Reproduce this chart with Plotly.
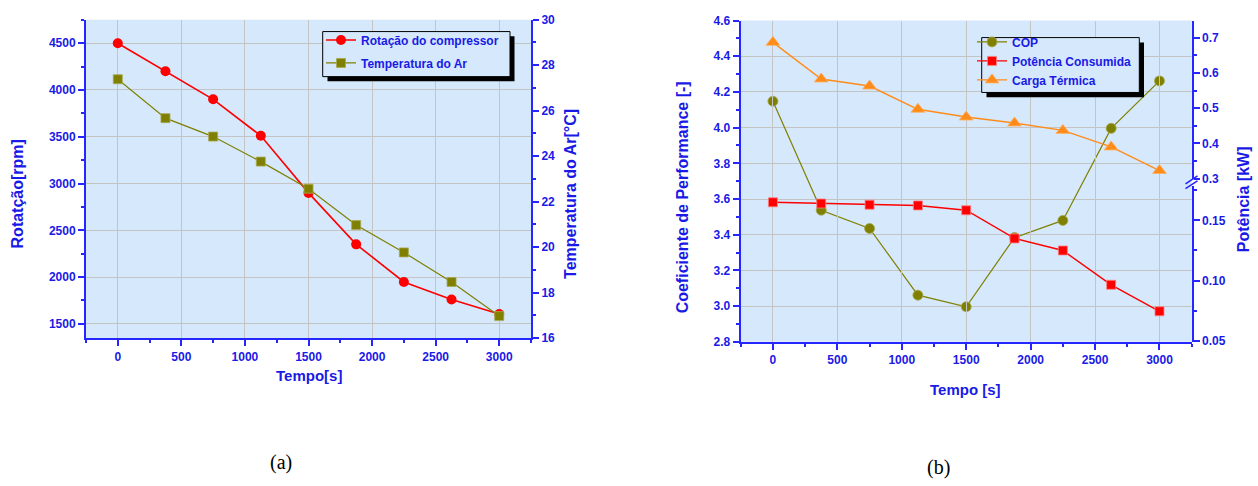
import plotly.graph_objects as go

# ---------------- data ----------------
tempo = [0, 375, 750, 1125, 1500, 1875, 2250, 2625, 3000]
rotacao = [4500, 4200, 3900, 3510, 2900, 2350, 1948, 1760, 1605]
temp_ar = [27.38, 25.67, 24.86, 23.76, 22.57, 20.97, 19.77, 18.47, 16.97]
cop = [4.148, 3.537, 3.435, 3.061, 2.996, 3.384, 3.48, 3.996, 4.262]
pot_consumida = [0.165, 0.164, 0.163, 0.1624, 0.1584, 0.135, 0.125, 0.0965, 0.0745]
carga_termica = [0.687, 0.583, 0.563, 0.497, 0.475, 0.458, 0.437, 0.39, 0.323]

W, H = 1258, 486
def px(x): return x / W
def py(y): return 1 - y / H

TXT = "#1a1ae6"
AX = "#2626ff"
BG = "#d5e8fc"
GRID = "#c4c4c4"
FONT = "Liberation Sans"
RED = "#ff0000"
OLIVE = "#808000"
ORANGE = "#ff8c1a"

tickfont = dict(family=FONT, size=12, color=TXT, weight="bold")

def axis(**kw):
    d = dict(showline=True, linecolor=AX, linewidth=2, ticks="outside", ticklen=6,
             tickwidth=1.5, tickcolor=AX, tickfont=tickfont, zeroline=False,
             gridcolor=GRID, gridwidth=1, showgrid=False)
    d.update(kw)
    return d

fig = go.Figure()

# left chart
fig.add_trace(go.Scatter(x=tempo, y=rotacao, name="<b>Rotação do compressor</b>",
                         mode="lines+markers", xaxis="x", yaxis="y",
                         line=dict(color=RED, width=1.6),
                         marker=dict(symbol="circle", size=10, color=RED),
                         legend="legend", legendgroup="a1"))
fig.add_trace(go.Scatter(x=tempo, y=temp_ar, name="<b>Temperatura do Ar</b>",
                         mode="lines+markers", xaxis="x", yaxis="y2",
                         line=dict(color=OLIVE, width=1.2),
                         marker=dict(symbol="square", size=9, color=OLIVE,
                                     line=dict(color="#a8a850", width=0.8)),
                         legend="legend", legendgroup="a2"))
# right chart
fig.add_trace(go.Scatter(x=tempo, y=cop, name="<b>COP</b>",
                         mode="lines+markers", xaxis="x2", yaxis="y3",
                         line=dict(color=OLIVE, width=1.2),
                         marker=dict(symbol="circle", size=10, color=OLIVE,
                                     line=dict(color="#a8a850", width=0.8)),
                         legend="legend2"))
fig.add_trace(go.Scatter(x=tempo, y=pot_consumida, name="<b>Potência Consumida</b>",
                         mode="lines+markers", xaxis="x2", yaxis="y4",
                         line=dict(color=RED, width=1.4),
                         marker=dict(symbol="square", size=9, color=RED,
                                     line=dict(color="#ff8080", width=0.8)),
                         legend="legend2"))
fig.add_trace(go.Scatter(x=tempo, y=carga_termica, name="<b>Carga Térmica</b>",
                         mode="lines+markers", xaxis="x2", yaxis="y5",
                         line=dict(color=ORANGE, width=1.4),
                         marker=dict(symbol="triangle-up", size=12, color=ORANGE,
                                     line=dict(color="#ffb060", width=0.8)),
                         legend="legend2"))

minor_out = lambda dt: dict(ticks="outside", ticklen=3, tickcolor=AX, tickwidth=1.5,
                            dtick=dt, showgrid=False)

layout = dict(
    width=W, height=H, margin=dict(l=0, r=0, t=0, b=0),
    paper_bgcolor="white", plot_bgcolor="rgba(0,0,0,0)",
    showlegend=True,
    # ---- left chart ----
    xaxis=axis(domain=[px(86), px(531)], range=[-250, 3250], anchor="y",
               tick0=0, dtick=500, minor=minor_out(250), showgrid=True),
    yaxis=axis(domain=[py(341), py(13)], range=[1347, 4752], anchor="x",
               tick0=0, dtick=500, minor=minor_out(250), showgrid=True),
    yaxis2=axis(overlaying="y", side="right", anchor="x", range=[16, 30],
                tick0=0, dtick=2, minor=minor_out(1)),
    xaxis3=axis(overlaying="x", side="top", anchor="y", range=[-250, 3250],
                tick0=0, dtick=500, ticks="inside", ticklen=5, showticklabels=False,
                minor=dict(ticks="inside", ticklen=3, tickcolor=AX, tickwidth=1.5, dtick=250)),
    # ---- right chart ----
    xaxis2=axis(domain=[px(740.7), px(1191.7)], range=[-250, 3250], anchor="y3",
                tick0=0, dtick=500, minor=minor_out(250), showgrid=True),
    yaxis3=axis(domain=[py(344.7), py(14)], range=[2.8, 4.6], anchor="x2",
                tick0=0, dtick=0.2, tickformat=".1f", minor=minor_out(0.1), showgrid=True),
    yaxis4=axis(domain=[py(344.7), py(184)], range=[0.0492, 0.1788], anchor="x2",
                side="right", tickvals=[0.05, 0.10, 0.15], tickformat=".2f",
                minor=dict(ticks="outside", ticklen=3, tickcolor=AX, tickwidth=1.5,
                           tickvals=[0.075, 0.125, 0.175])),
    yaxis5=axis(domain=[py(176.9), py(14)], range=[0.2995, 0.7488], anchor="x2",
                side="right", tick0=0, dtick=0.1, tickformat=".1f", minor=minor_out(0.05)),
    xaxis4=axis(overlaying="x2", side="top", anchor="y3", range=[-250, 3250],
                tick0=0, dtick=500, ticks="inside", ticklen=5, showticklabels=False,
                minor=dict(ticks="inside", ticklen=3, tickcolor=AX, tickwidth=1.5, dtick=250)),
    legend=dict(x=px(321), y=py(19), xanchor="left", yanchor="top",
                bgcolor="rgba(0,0,0,0)", borderwidth=0, tracegroupgap=4,
                font=dict(family=FONT, size=12, color=TXT), itemwidth=30),
    legend2=dict(x=px(972), y=py(21), xanchor="left", yanchor="top",
                 bgcolor="rgba(0,0,0,0)", borderwidth=0,
                 font=dict(family=FONT, size=12, color=TXT), itemwidth=30),
)
fig.update_layout(**layout)

shapes = []
def rect(x0, y0, x1, y1, fill, line_w=0, line_c="black", layer="above"):
    return dict(type="rect", xref="paper", yref="paper", layer=layer,
                x0=px(x0), x1=px(x1), y0=py(y1), y1=py(y0),
                fillcolor=fill, line=dict(width=line_w, color=line_c))
# plot-area backgrounds
shapes.append(rect(86, 13, 531, 341, BG, layer="below"))
shapes.append(rect(740.7, 14, 1191.7, 344.7, BG, layer="below"))
# left legend box with shadow
shapes.append(rect(327.5, 30, 514.5, 76.5, "black"))
shapes.append(rect(322.7, 25.3, 510, 71.7, BG, 1))
# right legend box with shadow
shapes.append(rect(986.5, 36.5, 1144, 93, "black"))
shapes.append(rect(981.7, 31.5, 1139.3, 88, BG, 1))
# axis break marks
for dy in (0, 5):
    shapes.append(dict(type="line", xref="paper", yref="paper", layer="above",
                       x0=px(1185.5), y0=py(182 + dy), x1=px(1197.5), y1=py(174 + dy),
                       line=dict(color=AX, width=1.5)))
fig.update_layout(shapes=shapes)

ann_font = dict(family=FONT, size=15, color=TXT, weight="bold")
ann_font16 = dict(family=FONT, size=16, color=TXT, weight="bold")
anns = [
    dict(text="Tempo[s]", x=px(308.5), y=py(379.5), font=ann_font),
    dict(text="Rotatção[rpm]", x=px(17), y=py(193), font=ann_font16, textangle=-90),
    dict(text="Temperatura do Ar[°C]", x=px(571), y=py(192.5), font=ann_font16, textangle=-90),
    dict(text="Coeficiente de Performance [-]", x=px(682.5), y=py(195.5), font=ann_font16, textangle=-90),
    dict(text="Tempo [s]", x=px(966), y=py(393.5), font=ann_font),
    dict(text="Potência [kW]", x=px(1243), y=py(198), font=ann_font16, textangle=-90),
    dict(text="(a)", x=px(280.5), y=py(469), font=dict(family="Liberation Serif", size=20, color="black")),
    dict(text="(b)", x=px(938), y=py(474), font=dict(family="Liberation Serif", size=20, color="black")),
]
for a in anns:
    a.update(xref="paper", yref="paper", showarrow=False, xanchor="center", yanchor="middle")
fig.update_layout(annotations=anns)

fig.write_html("out.html")
